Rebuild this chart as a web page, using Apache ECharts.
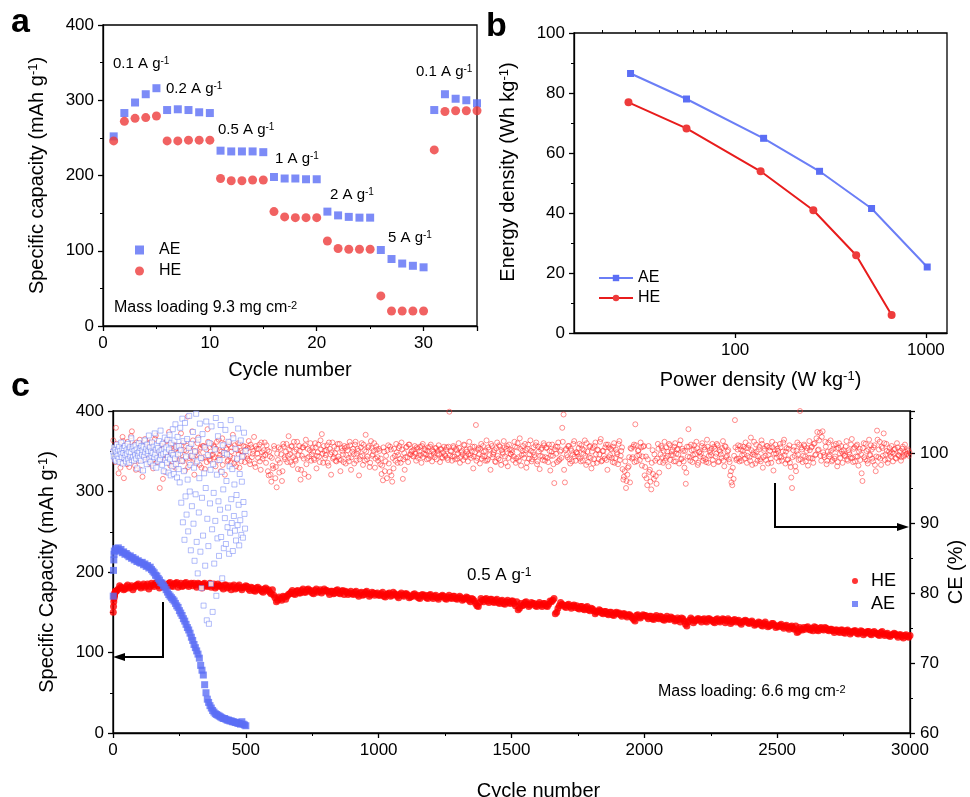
<!DOCTYPE html>
<html>
<head>
<meta charset="utf-8">
<script src="https://cdn.jsdelivr.net/npm/echarts@6/dist/echarts.min.js"></script>
<style>
html, body { margin: 0; padding: 0; background: #fff; }
#chart { width: 970px; height: 797px; }
</style>
</head>
<body>
<div id="chart"></div>
<script>
// ---------- panel a : rate test ----------
const rateCycles = [1, 2, 3, 4, 5, 6, 7, 8, 9, 10, 11, 12, 13, 14, 15, 16, 17, 18, 19, 20,
  21, 22, 23, 24, 25, 26, 27, 28, 29, 30, 31, 32, 33, 34, 35];
const rateAE = [252, 283, 297, 308, 316, 287, 288, 287, 284, 283, 233, 232, 232, 232, 231,
  198, 196, 196, 195, 195, 152, 147, 145, 144, 144, 101, 89, 83, 80, 78, 287, 308, 302, 300, 296];
const rateHE = [246, 272, 276, 277, 279, 246, 246, 247, 247, 247, 196, 193, 193, 194, 194,
  152, 145, 144, 144, 144, 113, 103, 102, 102, 102, 40, 20, 20, 20, 20, 234, 285, 286, 286, 286];

// ---------- panel b : Ragone plot ----------
const powerAE = [28.3, 55.6, 141, 277, 519, 1016];
const energyAE = [86.5, 78.0, 64.9, 53.9, 41.5, 22.0];
const powerHE = [27.6, 55.6, 136, 257, 431, 661];
const energyHE = [76.9, 68.2, 53.9, 40.9, 25.9, 6.0];
const powerMajorTicks = [100, 1000];
const powerMinorTicks = [20, 30, 40, 50, 60, 70, 80, 90, 200, 300, 400, 500, 600, 700, 800, 900];

// ---------- panel c : long cycling ----------
// HE capacity: first cycles, then every 10 cycles from 10, and every 10 cycles from 5
const heCapStartCycles = [1, 2, 3, 4, 5, 6, 7, 8, 9];
const heCapStart = [150, 157, 163, 167, 170, 172, 174, 175, 176];
const heCap = [
  176,179,181,178,182,180,183,181,184,182,
  183,181,185,182,184,186,183,185,182,184,
  186,183,185,187,184,182,186,184,185,183,
  184,186,182,185,183,184,181,185,182,183,
  181,184,180,183,182,179,182,180,181,183,
  179,181,177,180,178,176,179,177,175,178,
  168,165,167,170,166,172,175,173,176,174,
  177,175,178,176,174,177,175,178,176,177,
  175,176,173,177,174,176,172,175,174,173,
  175,172,174,171,175,173,172,174,173,171,
  173,170,172,174,171,173,170,172,171,173,
  171,169,172,170,168,171,170,168,171,169,
  170,168,169,171,167,169,168,170,167,168,
  168,166,169,165,167,164,158,162,165,166,
  164,166,163,165,162,164,161,163,162,164,
  161,163,155,158,162,160,159,161,158,160,
  159,161,158,160,163,167,150,158,160,157,
  159,157,158,156,155,157,154,156,153,155,
  152,150,153,149,151,148,150,147,149,148,
  147,148,146,147,145,141,146,144,145,146,
  144,145,142,144,143,145,141,143,142,144,
  142,140,141,143,139,133,140,141,139,142,
  140,141,139,142,140,138,141,139,140,141,
  139,140,138,141,139,137,138,140,137,138,
  137,135,138,134,136,135,133,136,134,133,
  134,132,133,131,132,130,133,126,129,131,
  131,129,130,132,128,130,129,131,128,129,
  127,128,126,128,125,127,126,125,127,124,
  125,126,124,126,123,125,124,122,125,123,
  123,121,122,124,121,122,120,121,120,121
];
const heCapMid = [
  171,177,183,180,179,184,181,178,183,185,
  180,185,183,179,186,182,187,180,186,181,
  183,187,182,186,181,186,183,187,182,186,
  186,181,185,180,186,182,186,183,180,185,
  183,179,184,181,178,184,180,184,178,181,
  182,177,180,176,181,179,175,180,178,173,
  171,163,169,165,169,170,173,177,172,177,
  174,179,175,179,177,173,179,176,174,179,
  177,172,176,174,178,173,177,176,172,176,
  172,176,170,175,172,176,170,175,171,174,
  171,175,169,173,170,175,172,168,174,170,
  173,168,170,173,171,167,172,171,167,172,
  167,171,166,170,170,166,171,167,170,166,
  170,165,167,168,163,166,161,157,167,163,
  167,162,166,162,166,161,165,160,165,161,
  164,158,153,161,159,163,157,162,161,157,
  162,157,161,157,164,165,148,155,162,159,
  156,160,155,159,158,154,157,153,157,152,
  154,148,151,152,148,151,147,150,146,150,
  149,145,148,144,147,143,139,147,143,147,
  146,142,145,141,146,142,144,140,145,141,
  143,139,143,138,142,135,138,143,137,140,
  142,138,142,138,142,140,137,142,138,142,
  137,142,136,140,138,140,135,139,139,136,
  139,134,136,137,133,138,132,134,136,131,
  132,135,130,134,129,133,129,125,131,128,
  129,132,128,127,131,127,131,128,130,127,
  129,125,128,125,128,124,128,123,126,127,
  123,127,122,125,126,122,126,124,121,126,
  121,124,120,122,123,119,122,118,122,119
];
// AE capacity: first cycles, then every 5 cycles from 5
const aeCapStartCycles = [1, 2, 3, 4];
const aeCapStart = [170, 202, 215, 222];
const aeCap = [
  226,229,227,230,226,228,224,225,222,223,
  221,219,220,217,218,215,216,213,214,212,
  211,212,209,210,207,208,205,206,203,201,
  199,196,195,192,190,187,186,183,181,178,
  175,172,170,168,166,164,161,158,156,152,
  149,146,142,139,135,131,128,124,119,115,
  110,106,102,98,93,84,78,72,60,50,
  42,38,34,31,28,26,24,23,22,21,
  20,19,18,18,17,16,16,15,15,14,
  14,13,13,12,12,11,14,11,10,9
];
// AE coulombic efficiency (%), every 2 cycles from cycle 1
const aeCE = [
  100.2,99.5,100.8,99.1,100.4,98.9,100.1,101.2,99.6,100.5,
  99.2,100.9,98.7,100.3,99.8,101.5,99.4,100.6,98.5,100.0,
  100.7,99.3,101.0,99.7,98.8,100.4,99.9,101.3,99.1,100.2,
  98.6,100.8,99.5,100.1,102.1,99.0,100.6,99.4,100.9,98.9,
  100.3,99.7,101.1,99.2,100.5,97.8,100.0,99.6,101.4,100.2,
  99.3,100.7,98.9,101.0,99.8,100.4,97.5,100.9,99.5,101.8,
  100.1,99.0,100.6,98.4,101.2,99.9,100.3,102.5,99.2,100.8,
  98.7,100.2,99.6,101.5,100.0,98.2,100.9,99.4,102.8,99.8,
  100.5,97.9,101.1,99.3,100.7,98.8,101.7,100.2,99.1,103.2,
  99.7,100.4,98.3,101.3,99.9,97.4,100.6,102.2,99.0,100.1,
  100.8,98.6,101.9,99.4,97.2,100.5,102.6,99.1,96.8,101.4,
  100.0,98.1,103.4,99.7,97.0,101.8,99.2,104.1,98.4,100.9,
  96.5,102.3,99.8,97.7,101.0,
  95.8,103.6,100.4,92.9,98.9,104.9,90.1,101.7,97.4,87.6,
  104.3,93.8,99.5,91.2,102.0,96.2,88.8,100.7,105.3,94.5,
  98.3,86.1,101.3,92.4,99.6,
  103.0,89.9,97.9,84.6,100.2,94.1,105.6,87.3,98.8,82.8,
  101.9,91.5,96.4,104.2,85.9,99.3,80.7,93.6,102.7,88.2,
  78.2,97.1,100.8,83.9,95.0,104.5,76.1,90.6,99.7,86.7,
  75.6,101.4,92.8,97.6,81.3,103.8,89.1,77.3,98.4,94.3,
  84.2,100.5,90.3,105.0,79.6,96.9,87.8,102.4,93.1,85.3,
  99.0,91.9,104.0,88.0,97.3,82.1,101.1,94.8,86.4,100.0,
  90.7,103.3,87.0,96.0,99.8,89.4,92.2,101.6,85.6,98.1,
  88.6,104.7,93.4,90.0,97.7,86.0,102.1,91.0,95.5,88.9,
  100.6,87.5,94.0,99.2,89.7,103.5,92.6,86.8,97.0,90.4,
  101.8,88.3,95.9,99.5,87.9,93.0,102.9,91.3,89.2,100.3
];
// HE coulombic efficiency (%), every 5 cycles from cycle 1
const heCE = [
  101.8,99.2,103.6,100.4,97.1,100.9,98.6,102.3,96.4,100.1,99.5,101.6,98.0,100.7,103.1,99.0,101.2,97.6,100.3,98.9,101.9,99.7,96.6,100.6,102.0,
  99.3,100.8,98.4,101.4,99.9,97.8,100.5,102.5,98.7,100.2,95.0,101.1,99.4,100.9,97.3,101.7,99.6,103.0,98.2,100.4,101.3,99.1,97.9,100.7,98.8,
  100.6,102.8,99.0,101.5,97.5,100.3,105.2,98.6,100.9,99.4,101.8,96.9,100.1,99.7,102.2,98.3,100.8,99.2,101.0,97.7,100.5,103.4,99.5,98.9,101.3,
  99.8,100.9,98.1,101.6,99.3,100.4,97.4,102.1,99.7,96.9,100.7,98.8,101.2,99.5,100.2,102.6,98.5,100.6,99.0,101.4,97.9,100.3,99.6,101.0,98.7,
  100.5,99.2,101.7,98.4,100.8,99.9,102.3,98.0,100.6,99.3,101.2,97.6,100.1,99.6,101.5,98.6,100.4,96.8,99.5,95.9,98.2,101.0,96.4,95.1,99.0,
  97.2,100.6,96.0,101.3,99.4,100.2,98.7,102.4,99.8,100.9,98.3,101.6,99.1,100.5,97.7,101.0,96.2,99.6,100.8,97.0,101.9,99.3,96.6,100.4,98.9,
  100.7,99.2,101.4,97.8,100.1,99.5,101.8,102.7,98.6,100.3,99.7,101.1,98.2,100.6,96.9,101.5,99.4,100.0,98.8,101.3,99.1,97.4,100.7,99.8,101.0,
  98.5,100.9,99.3,101.6,97.6,100.2,99.8,101.2,98.9,100.6,96.8,99.5,101.4,98.3,100.4,102.6,99.1,100.8,98.0,101.7,99.6,100.3,97.9,101.0,99.4,
  100.6,98.4,97.0,96.1,100.2,98.8,96.4,101.1,97.3,100.5,95.9,97.8,99.6,101.3,98.6,100.7,99.2,101.5,96.3,100.0,99.4,100.9,98.7,101.2,99.8,
  100.3,99.5,101.0,98.9,100.6,99.7,100.9,98.6,101.3,99.9,100.4,99.1,100.8,99.6,101.2,98.8,100.2,99.4,100.7,99.9,101.1,98.7,100.5,99.3,100.9,
  99.6,100.8,99.0,105.9,100.3,98.9,101.0,99.5,100.6,99.2,101.4,98.6,100.1,99.8,101.2,99.4,100.5,98.8,101.6,99.7,100.2,97.8,100.9,104.0,99.3,
  100.7,98.5,101.3,99.6,100.2,98.9,101.8,99.1,100.5,97.6,101.0,99.8,100.4,98.7,101.5,99.2,100.9,98.3,100.1,101.7,99.5,100.6,98.1,101.2,99.9,
  100.4,99.0,101.6,98.6,100.8,99.4,102.1,98.2,100.3,99.8,101.3,97.9,100.6,99.2,101.8,98.8,100.1,99.7,101.1,98.4,100.9,97.7,100.5,99.5,101.4,
  98.9,100.7,99.3,101.2,97.5,100.2,99.6,95.7,100.9,98.7,101.5,99.1,100.4,103.6,105.5,95.8,100.6,99.4,101.0,98.5,100.3,99.8,101.7,98.9,100.1,
  99.5,101.3,98.8,100.6,99.9,101.8,98.3,100.2,99.4,101.0,97.8,100.7,99.1,101.5,98.6,100.4,99.8,102.0,98.9,100.3,99.2,101.2,97.6,100.8,99.7,
  100.5,98.7,101.4,99.3,100.1,98.4,101.7,99.6,100.8,96.2,97.4,95.0,96.9,98.1,95.8,100.6,99.4,101.2,104.1,98.8,100.3,99.7,101.5,98.2,100.9,
  96.8,99.5,95.4,101.0,97.6,94.8,100.4,96.3,98.9,95.6,101.3,97.2,99.8,100.7,98.6,101.6,99.3,100.2,98.1,101.1,99.7,100.5,98.8,101.4,99.9,
  100.6,98.5,101.8,99.2,100.3,97.9,95.6,100.9,103.4,99.4,101.2,98.7,100.5,99.8,101.6,98.3,100.1,99.5,101.0,98.9,100.8,99.1,101.9,98.6,100.4,
  99.7,101.3,98.4,100.6,99.9,101.1,98.8,100.2,99.3,101.7,98.1,100.9,99.6,100.4,98.7,97.4,95.4,96.3,104.7,99.0,100.5,99.2,101.0,98.9,100.3,
  99.8,101.5,98.6,100.7,99.4,102.2,98.3,100.1,99.7,101.2,98.9,100.5,99.1,101.8,97.9,100.3,99.6,101.0,98.5,100.8,99.2,101.6,97.5,100.4,99.9,
  100.6,98.8,101.3,99.4,100.2,101.9,98.5,100.7,99.1,101.1,98.0,95.0,100.4,99.6,97.4,101.5,99.0,106.0,100.8,98.7,101.2,99.5,100.3,98.2,101.7,
  99.3,100.9,98.6,101.4,99.8,103.0,100.5,102.9,98.9,103.1,99.7,101.6,98.4,100.2,99.5,101.8,98.8,100.6,99.2,101.3,98.1,100.7,99.9,101.0,98.6,
  100.4,99.6,101.7,98.9,100.1,99.3,102.0,98.7,100.8,99.5,101.2,98.2,100.6,99.8,96.0,101.4,99.1,100.3,98.5,101.9,99.7,100.5,98.8,101.1,97.4,
  103.2,99.4,101.6,98.3,100.7,102.8,99.0,101.3,98.6,100.2,99.9,101.0,98.8,100.5,99.3,101.4,99.7,100.1,98.9,100.6,99.5,101.2,99.8,100.3,99.6
];
// HE coulombic efficiency (%), every 5 cycles from cycle 3
const heCEMid = [
  100.4,98.7,101.3,99.5,100.9,97.9,100.2,101.7,99.1,100.6,98.4,101.0,99.8,102.4,99.3,100.5,98.2,101.5,99.6,100.1,97.6,101.2,99.0,100.8,99.4,
  100.9,99.6,101.5,98.5,100.3,99.1,102.0,99.7,100.6,98.9,101.1,99.4,96.3,100.7,99.0,101.8,98.6,100.2,99.9,101.3,98.1,100.5,99.5,101.0,99.2,
  99.9,101.1,98.8,100.4,99.3,101.7,98.0,100.8,99.6,103.1,99.2,100.3,98.5,101.4,99.8,100.6,97.9,101.0,99.4,100.9,98.7,101.6,99.1,100.2,99.7,
  101.0,99.4,100.6,98.9,101.9,99.7,100.2,98.3,101.3,99.9,100.5,99.0,101.6,98.6,100.8,99.3,101.1,98.1,100.4,99.8,101.4,98.8,100.1,99.5,100.9,
  99.6,100.7,98.9,101.2,99.4,100.3,98.5,101.0,99.9,100.6,98.8,101.5,99.2,100.4,99.7,101.1,97.4,100.2,96.9,99.3,97.8,100.6,98.0,99.9,100.8,
  98.6,99.8,97.4,100.9,99.1,101.3,99.6,100.5,98.7,101.0,99.4,100.2,98.9,101.6,99.7,100.3,97.6,100.8,99.2,101.1,98.4,100.6,99.5,101.4,99.8,
  100.2,99.0,100.8,99.6,101.2,98.7,100.5,99.9,101.0,99.3,100.4,98.6,101.5,99.8,100.1,99.2,100.9,98.9,100.6,99.5,101.3,99.0,100.3,98.7,100.7,
  99.7,100.4,98.8,101.1,99.4,100.6,98.5,101.6,99.9,100.3,99.1,100.8,99.6,101.2,98.9,100.2,99.5,101.0,98.6,100.7,99.8,101.4,99.2,100.5,98.9,
  100.3,99.2,98.2,100.8,97.4,99.6,100.4,98.5,100.9,96.8,99.3,100.6,98.9,100.1,99.7,101.0,98.6,100.5,99.1,97.6,100.8,99.4,101.2,99.8,100.2,
  99.6,100.5,99.9,100.8,99.3,100.2,99.7,101.0,99.4,100.6,99.8,100.3,99.2,100.9,99.6,100.4,99.9,100.7,99.1,100.3,99.8,100.6,99.4,100.1,99.7,
  100.5,99.3,100.9,99.7,100.2,99.5,100.8,99.1,100.4,99.9,100.7,99.4,100.3,99.0,101.1,99.6,100.2,99.8,100.6,99.3,100.9,99.5,100.1,98.9,100.5,
  99.8,100.6,99.2,101.0,99.5,100.3,98.9,100.8,99.7,101.3,99.4,100.1,98.8,100.7,99.6,101.1,99.0,100.4,99.9,100.8,98.6,101.0,99.3,100.5,99.8,
  100.1,99.5,100.9,99.2,101.4,98.9,100.6,99.7,101.0,99.3,100.4,98.6,101.2,99.8,100.3,99.1,100.8,99.4,101.5,98.8,100.2,99.6,100.7,99.0,101.1,
  99.4,100.8,98.7,100.3,99.6,101.2,98.4,100.5,99.9,100.9,98.9,100.2,99.3,101.6,97.6,100.4,99.7,101.0,99.1,100.6,98.8,101.3,99.5,100.1,99.9,
  100.7,99.2,101.1,98.9,100.4,99.6,101.4,98.7,100.9,99.3,100.2,98.5,101.0,99.8,100.5,99.1,101.6,98.8,100.3,99.6,100.8,99.0,101.2,99.4,100.6,
  99.3,100.9,98.6,100.5,99.8,101.3,99.0,100.3,97.7,96.6,98.8,96.0,97.9,99.4,100.7,99.2,100.9,98.7,101.1,99.6,100.4,99.0,100.8,99.5,101.0,
  98.0,96.4,99.1,97.3,95.9,98.6,97.0,99.8,96.7,99.2,100.6,98.7,101.0,99.4,100.3,98.9,100.8,99.6,101.3,99.0,100.2,99.7,100.9,98.8,100.5,
  99.8,101.2,99.1,100.6,98.8,100.3,97.2,99.5,100.9,98.9,100.4,99.7,101.1,99.2,100.7,98.6,100.2,99.9,101.4,99.3,100.5,98.7,100.9,99.6,100.1,
  100.6,99.0,100.9,99.5,101.3,98.7,100.4,99.8,100.7,98.9,101.0,99.4,100.2,99.1,96.8,95.8,97.9,99.6,100.8,99.2,101.1,98.8,100.5,99.7,100.9,
  99.2,100.7,99.6,101.1,98.9,100.4,99.8,101.6,98.5,100.2,99.5,100.9,98.8,101.3,99.4,100.6,99.0,101.0,99.7,100.3,98.6,100.8,99.9,101.2,99.3,
  100.3,99.5,100.8,98.9,101.5,99.7,100.2,99.0,100.6,98.6,96.5,99.4,100.9,98.1,100.3,99.8,101.2,99.1,100.5,99.6,101.0,98.8,100.7,99.3,100.4,
  100.8,99.2,101.3,99.7,102.1,100.4,101.8,99.6,102.3,100.1,99.4,100.9,98.9,101.5,99.8,100.3,99.0,101.1,99.5,100.6,98.7,101.4,99.3,100.2,99.9,
  99.6,100.9,99.1,100.4,99.8,101.2,99.3,100.6,98.8,101.0,99.5,100.2,99.0,97.1,100.7,99.4,101.3,98.9,100.5,99.7,101.1,99.2,100.8,98.3,99.5,
  101.9,100.5,99.2,100.9,99.6,101.4,99.8,100.3,99.1,100.7,99.5,100.1,99.9,100.6,99.2,100.8,99.6,100.3,99.4,100.9,99.7,100.2,99.9,100.5,100.1
];

const FONT = 'Arial, "Liberation Sans", Helvetica, sans-serif';
const BLUE = '#5b6ef5';
const BLUE_LINE = '#6b7ef6';
const RED_A = '#ee3b3b';
const RED_LINE = '#e81c1c';
const RED_C = '#ff0000';

function pairs(xs, ys) { return xs.map((x, i) => [x, ys[i]]); }
function stepped(start, step, ys) { return ys.map((y, i) => [start + i * step, y]); }

const supRich = { sup: { fontSize: 13, verticalAlign: 'top', fontFamily: FONT } };

function axis(extra) {
  const base = {
    axisLine: { show: true, onZero: false, lineStyle: { color: '#000', width: 1.3 } },
    axisTick: { show: true, length: 5, lineStyle: { color: '#000', width: 1.3 } },
    minorTick: { show: true, splitNumber: 2, length: 3, lineStyle: { color: '#000', width: 1 } },
    splitLine: { show: false },
    axisLabel: { color: '#000', fontSize: 17, fontFamily: FONT, margin: 9, formatter: v => String(v) },
    nameLocation: 'middle',
    nameTextStyle: { color: '#000', fontSize: 20, fontFamily: FONT, rich: supRich }
  };
  for (const k in extra) {
    if (typeof extra[k] === 'object' && base[k] && !Array.isArray(extra[k])) {
      base[k] = Object.assign({}, base[k], extra[k]);
    } else {
      base[k] = extra[k];
    }
  }
  return base;
}

function annot(x, y, text, size) {
  return {
    type: 'text', x: x, y: y, silent: true,
    style: {
      text: text, fill: '#000', fontSize: size, fontFamily: FONT, verticalAlign: 'middle',
      rich: { sup: { fontSize: Math.round(size * 0.68), verticalAlign: 'top', fontFamily: FONT } }
    }
  };
}

function panelLetter(x, y, t) {
  return {
    type: 'text', x: x, y: y, silent: true,
    style: { text: t, fill: '#000', fontSize: 34, fontWeight: 'bold', fontFamily: FONT, verticalAlign: 'bottom' }
  };
}

const stripName = n => n.split('#')[0];
const gridBorder = { show: true, borderColor: '#000', borderWidth: 1.3, backgroundColor: 'transparent',
  containLabel: false, outerBoundsMode: 'none' };

const chart = echarts.init(document.getElementById('chart'));
chart.setOption({
  animation: false,
  grid: [
    Object.assign({ left: 103, top: 25, width: 374, height: 301 }, gridBorder),
    Object.assign({ left: 574, top: 33, width: 373, height: 300 }, gridBorder),
    Object.assign({ left: 113, top: 411, width: 797, height: 322 }, gridBorder)
  ],
  xAxis: [
    axis({ type: 'value', gridIndex: 0, min: 0, max: 35, interval: 10,
      axisLabel: { showMaxLabel: false },
      name: 'Cycle number', nameGap: 34 }),
    axis({ type: 'log', gridIndex: 1, min: 14.3, max: 1290, logBase: 10,
      axisLabel: { customValues: powerMajorTicks, formatter: v => String(Math.round(v)) },
      axisTick: { customValues: powerMajorTicks },
      minorTick: { show: false },
      name: 'Power density (W kg{sup|-1})', nameGap: 37 }),
    axis({ type: 'log', gridIndex: 1, min: 14.3, max: 1290, logBase: 10,
      axisLine: { show: false },
      axisLabel: { show: false },
      axisTick: { customValues: powerMinorTicks, length: 3, lineStyle: { width: 1 } },
      minorTick: { show: false } }),
    axis({ type: 'value', gridIndex: 2, min: 0, max: 3000, interval: 500,
      name: 'Cycle number', nameGap: 48,
      nameTextStyle: { padding: [0, 0, 0, 54] } })
  ],
  yAxis: [
    axis({ type: 'value', gridIndex: 0, min: 0, max: 400, interval: 100,
      name: 'Specific capacity (mAh g{sup|-1})', nameGap: 56 }),
    axis({ type: 'value', gridIndex: 1, min: 0, max: 100, interval: 20,
      name: 'Energy density (Wh kg{sup|-1})', nameGap: 56,
      nameTextStyle: { padding: [0, 0, 0, 22] } }),
    axis({ type: 'value', gridIndex: 2, min: 0, max: 400, interval: 100,
      name: 'Specific Capacity (mAh g{sup|-1})', nameGap: 56 }),
    axis({ type: 'value', gridIndex: 2, position: 'right', min: 60, max: 106, interval: 10,
      axisLabel: { showMaxLabel: false, margin: 10 },
      name: 'CE (%)', nameGap: 36, nameRotate: 90, nameMoveOverlap: false })
  ],
  legend: [
    { orient: 'vertical', left: 130, top: 237, itemWidth: 9, itemHeight: 9, itemGap: 5,
      data: ['AE#a', 'HE#a'], formatter: stripName, selectedMode: false,
      textStyle: { fontSize: 16, fontFamily: FONT, color: '#000', padding: [0, 0, 0, 10] } },
    { orient: 'vertical', left: 593, top: 265, itemWidth: 34, itemHeight: 8, itemGap: 4,
      data: ['AE#b', 'HE#b'], formatter: stripName, selectedMode: false,
      textStyle: { fontSize: 16, fontFamily: FONT, color: '#000' } },
    { orient: 'vertical', left: 847, top: 567, itemWidth: 6, itemHeight: 6, itemGap: 5,
      data: ['HE#c', 'AE#c'], formatter: stripName, selectedMode: false,
      textStyle: { fontSize: 18, fontFamily: FONT, color: '#000', padding: [0, 0, 0, 8] } }
  ],
  series: [
    // panel a
    { name: 'AE#a', type: 'scatter', xAxisIndex: 0, yAxisIndex: 0, symbol: 'rect', symbolSize: 8,
      itemStyle: { color: BLUE }, data: pairs(rateCycles, rateAE) },
    { name: 'HE#a', type: 'scatter', xAxisIndex: 0, yAxisIndex: 0, symbol: 'circle', symbolSize: 9,
      itemStyle: { color: RED_A }, data: pairs(rateCycles, rateHE) },
    // panel b
    { name: 'AE#b', type: 'line', xAxisIndex: 1, yAxisIndex: 1, symbol: 'rect', symbolSize: 7,
      lineStyle: { color: BLUE_LINE, width: 2 }, itemStyle: { color: BLUE },
      data: pairs(powerAE, energyAE) },
    { name: 'HE#b', type: 'line', xAxisIndex: 1, yAxisIndex: 1, symbol: 'circle', symbolSize: 8,
      lineStyle: { color: RED_LINE, width: 2 }, itemStyle: { color: RED_A },
      data: pairs(powerHE, energyHE) },
    // panel c : capacity
    { name: 'HE#c', type: 'scatter', xAxisIndex: 3, yAxisIndex: 2, symbol: 'circle', symbolSize: 7,
      itemStyle: { color: RED_C },
      data: pairs(heCapStartCycles, heCapStart).concat(stepped(10, 10, heCap), stepped(5, 10, heCapMid)) },
    { name: 'AE#c', type: 'scatter', xAxisIndex: 3, yAxisIndex: 2, symbol: 'rect', symbolSize: 7,
      itemStyle: { color: BLUE },
      data: pairs(aeCapStartCycles, aeCapStart).concat(stepped(5, 5, aeCap)) },
    // panel c : coulombic efficiency
    { name: 'HE CE', type: 'scatter', xAxisIndex: 3, yAxisIndex: 3, symbol: 'circle', symbolSize: 5,
      itemStyle: { color: 'rgba(255,255,255,0)', borderColor: 'rgba(255,45,45,0.75)', borderWidth: 0.9 },
      data: stepped(1, 5, heCE).concat(stepped(3, 5, heCEMid)) },
    { name: 'AE CE', type: 'scatter', xAxisIndex: 3, yAxisIndex: 3, symbol: 'rect', symbolSize: 5,
      itemStyle: { color: '#fff', borderColor: 'rgba(95,115,245,0.75)', borderWidth: 0.8 },
      data: stepped(1, 2, aeCE) }
  ],
  graphic: [
    panelLetter(11, 40, 'a'),
    panelLetter(486, 44, 'b'),
    panelLetter(11, 404, 'c'),
    annot(113, 64, '0.1 A g{sup|-1}', 15),
    annot(166, 89, '0.2 A g{sup|-1}', 15),
    annot(218, 130, '0.5 A g{sup|-1}', 15),
    annot(275, 159, '1 A g{sup|-1}', 15),
    annot(330, 195, '2 A g{sup|-1}', 15),
    annot(388, 238, '5 A g{sup|-1}', 15),
    annot(416, 72, '0.1 A g{sup|-1}', 15),
    annot(114, 308, 'Mass loading 9.3 mg cm{sup|-2}', 16),
    annot(467, 575, '0.5 A g{sup|-1}', 17),
    annot(658, 692, 'Mass loading: 6.6 mg cm{sup|-2}', 16),
    { type: 'polyline', silent: true, shape: { points: [[163, 602], [163, 657], [122, 657]] },
      style: { stroke: '#000', lineWidth: 2, fill: null } },
    { type: 'polygon', silent: true, shape: { points: [[113, 657], [125, 653], [125, 661]] },
      style: { fill: '#000' } },
    { type: 'polyline', silent: true, shape: { points: [[775, 483], [775, 527], [898, 527]] },
      style: { stroke: '#000', lineWidth: 2, fill: null } },
    { type: 'polygon', silent: true, shape: { points: [[909, 527], [897, 523], [897, 531]] },
      style: { fill: '#000' } }
  ]
});
</script>
</body>
</html>
